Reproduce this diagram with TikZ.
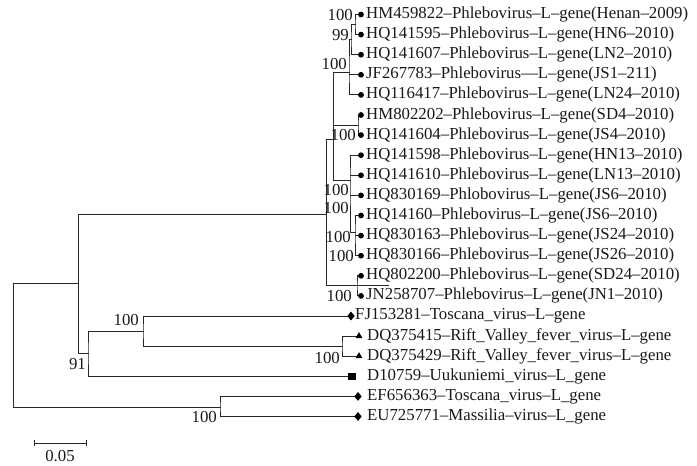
\documentclass[tikz,border=0pt]{standalone}
\usepackage{fontspec}
\setmainfont{Liberation Serif}
\usetikzlibrary{shapes.geometric}
\begin{document}
\begin{tikzpicture}[x=1pt,y=-1pt,
  br/.style={line width=1pt, draw=black!85, line cap=rect},
  dotm/.style={circle, fill=black, inner sep=0pt, minimum size=5.8pt},
  diam/.style={diamond, fill=black, inner sep=0pt, minimum width=7.5pt, minimum height=9pt},
  tri/.style={regular polygon, regular polygon sides=3, fill=black, inner sep=0pt, minimum size=8pt},
  sq/.style={rectangle, fill=black, inner sep=0pt, minimum size=7.5pt},
  lab/.style={anchor=west, inner sep=0pt, text=black!90, font=\fontsize{16.8}{19}\selectfont},
  bs/.style={anchor=east, inner sep=0pt, text=black!90, font=\fontsize{16.8}{19}\selectfont}]
\useasboundingbox (0,0) rectangle (697,466);
% leaf points
\coordinate (p1) at (361,14.5);
\coordinate (p2) at (361,34.6);
\coordinate (p3) at (361,54.7);
\coordinate (p4) at (361,74.8);
\coordinate (p5) at (361,94.9);
\coordinate (p6) at (361,115.0);
\coordinate (p7) at (361,135.1);
\coordinate (p8) at (361,155.2);
\coordinate (p9) at (361,175.3);
\coordinate (p10) at (361,195.4);
\coordinate (p11) at (361,215.5);
\coordinate (p12) at (361,235.6);
\coordinate (p13) at (361,255.7);
\coordinate (p14) at (361,275.8);
\coordinate (p15) at (361,295.9);
\coordinate (p16) at (351,316.0);
\coordinate (p17) at (359,336.1);
\coordinate (p18) at (359,356.2);
\coordinate (p19) at (352,376.3);
\coordinate (p20) at (358,396.4);
\coordinate (p21) at (358,416.5);
% internal nodes
\coordinate (a1) at (355,24.5);
\coordinate (a2) at (351,39.6);
\coordinate (a3) at (349,72);
\coordinate (b) at (358,125);
\coordinate (cc) at (350,180);
\coordinate (dj) at (355,232);
\coordinate (e) at (357,285.85);
\coordinate (ext) at (388,285.85);
\coordinate (c1) at (333,139);
\coordinate (r1) at (326,214);
\coordinate (n1) at (78,283);
\coordinate (n91) at (88,353);
\coordinate (n3) at (143,331);
\coordinate (rv) at (342,346.15);
\coordinate (n2) at (220,407);
\coordinate (root) at (13,345);
% branches
\draw[br] (p1) -| (a1) |- (p2);
\draw[br] (a1) -| (a2) |- (p3);
\draw[br] (a2) -| (a3) |- (p5);
\draw[br] (a3 |- p4) -- (p4);
\draw[br] (a3) -- (c1 |- a3) -- (c1 |- cc) -- (cc);
\draw[br] (c1 |- b) -- (b);
\draw[br] (p6) -| (b) |- (p7);
\draw[br] (p8) -| (cc) -- (cc |- dj) -- (dj);
\draw[br] (cc |- p9) -- (p9);
\draw[br] (cc |- p10) -- (p10);
\draw[br] (p11) -| (dj) |- (p13);
\draw[br] (dj |- p12) -- (p12);
\draw[br] (p14) -| (e) |- (p15);
\draw[br] (c1) -- (r1 |- c1) -- (r1 |- ext) -- (ext);
\draw[br] (r1) -- (n1 |- r1) -- (n1 |- n91) -- (n91);
\draw[br] (n1) -- (root |- n1) -- (root |- n2) -- (n2);
\draw[br] (n3) -| (n91) |- (p19);
\draw[br] (p16) -| (n3) |- (rv);
\draw[br] (p17) -| (rv) |- (p18);
\draw[br] (p20) -| (n2) |- (p21);
% markers
\foreach \i in {1,...,15} { \node[dotm] (m\i) at (p\i) {}; }
\node[diam] (m16) at (p16) {};
\node[tri] (m17) at (p17) {};
\node[tri] (m18) at (p18) {};
\node[sq] (m19) at (p19) {};
\node[diam] (m20) at (p20) {};
\node[diam] (m21) at (p21) {};
% leaf labels
\node[lab] (t1) at (366,14.5) {HM459822–Phlebovirus–L–gene(Henan–2009)};
\node[lab] (t2) at (366,34.6) {HQ141595–Phlebovirus–L–gene(HN6–2010)};
\node[lab] (t3) at (366,54.7) {HQ141607–Phlebovirus–L–gene(LN2–2010)};
\node[lab] (t4) at (366,74.8) {JF267783–Phlebovirus––L–gene(JS1–211)};
\node[lab] (t5) at (366,94.9) {HQ116417–Phlebovirus–L–gene(LN24–2010)};
\node[lab] (t6) at (366,115.0) {HM802202–Phlebovirus–L–gene(SD4–2010)};
\node[lab] (t7) at (366,135.1) {HQ141604–Phlebovirus–L–gene(JS4–2010)};
\node[lab] (t8) at (366,155.2) {HQ141598–Phlebovirus–L–gene(HN13–2010)};
\node[lab] (t9) at (366,175.3) {HQ141610–Phlebovirus–L–gene(LN13–2010)};
\node[lab] (t10) at (366,195.4) {HQ830169–Phlobovirus–L–gene(JS6–2010)};
\node[lab] (t11) at (366,215.5) {HQ14160–Phlebovirus–L–gene(JS6–2010)};
\node[lab] (t12) at (366,235.6) {HQ830163–Phlebovirus–L–gene(JS24–2010)};
\node[lab] (t13) at (366,255.7) {HQ830166–Phlebovirus–L–gene(JS26–2010)};
\node[lab] (t14) at (366,275.8) {HQ802200–Phlebovirus–L–gene(SD24–2010)};
\node[lab] (t15) at (366,295.9) {JN258707–Phlebovirus–L–gene(JN1–2010)};
\node[lab] (t16) at (355,316.0) {FJ153281–Toscana\_virus–L–gene};
\node[lab] (t17) at (367,336.1) {DQ375415–Rift\_Valley\_fever\_virus–L–gene};
\node[lab] (t18) at (367,356.2) {DQ375429–Rift\_Valley\_fever\_virus–L–gene};
\node[lab] (t19) at (367,376.3) {D10759–Uukuniemi\_virus–L\_gene};
\node[lab] (t20) at (367,396.4) {EF656363–Toscana\_virus–L\_gene};
\node[lab] (t21) at (367,416.5) {EU725771–Massilia–virus–L\_gene};
% bootstrap values
\node[bs] (bs1) at (353,14.5) {100};
\node[bs] (bs2) at (349,34.6) {99};
\node[bs] (bs3) at (347,64) {100};
\node[bs] (bs4) at (356,135.1) {100};
\node[bs] (bs5) at (349,190) {100};
\node[bs] (bs6) at (349,207.5) {100};
\node[bs] (bs7) at (351,237) {100};
\node[bs] (bs8) at (354,255.7) {100};
\node[bs] (bs9) at (352,295.9) {100};
\node[bs] (bs10) at (139,320) {100};
\node[bs] (bs11) at (340,358) {100};
\node[bs] (bs12) at (86,364) {91};
\node[bs] (bs13) at (217,417) {100};
% scale bar
\coordinate (sb1) at (34,443);
\coordinate (sb2) at (86,443);
\draw[br, line cap=butt] (sb1) -- (sb2);
\draw[br, line cap=butt] ([yshift=-3pt]sb1) -- ([yshift=3pt]sb1);
\draw[br, line cap=butt] ([yshift=-3pt]sb2) -- ([yshift=3pt]sb2);
\node[lab, anchor=center] (sbl) at (60,456) {0.05};
\end{tikzpicture}
\end{document}
